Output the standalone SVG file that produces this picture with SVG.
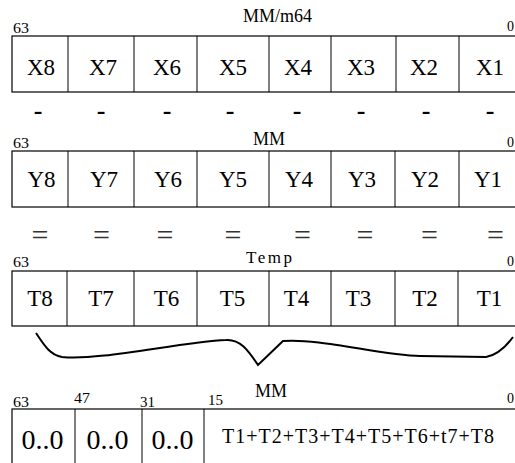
<svg xmlns="http://www.w3.org/2000/svg" width="515" height="463" viewBox="0 0 515 463">
<style>
text{font-family:"Liberation Serif","Times New Roman",serif;fill:#000}
.cell{font-size:23px;text-anchor:middle}
.zero{font-size:28px;text-anchor:middle}
.sum{font-size:20px;letter-spacing:1px}
.bit{font-size:14px}
.ttl{font-size:18px}
.tmp{font-size:17px;letter-spacing:2.5px}
.box{fill:none;stroke:#000;stroke-width:1.2}
.div{stroke:#000;stroke-width:1}
.op{font-size:26px;font-weight:bold;text-anchor:middle}
.eq{font-size:30px;text-anchor:middle;fill:#333}
.brace{fill:none;stroke:#000;stroke-width:2}
</style>
<rect width="515" height="463" fill="#fff"/>

<g id="regX">
  <text class="ttl" x="243" y="22">MM/m64</text>
  <text class="bit" x="13" y="33" textLength="16" lengthAdjust="spacingAndGlyphs">63</text>
  <text class="bit" x="507" y="31">0</text>
  <rect class="box" x="12" y="36" width="520" height="56"/>
  <g class="div"><line x1="68" y1="36" x2="68" y2="92"/><line x1="134" y1="36" x2="134" y2="92"/><line x1="197" y1="36" x2="197" y2="92"/><line x1="269" y1="36" x2="269" y2="92"/><line x1="331" y1="36" x2="331" y2="92"/><line x1="396" y1="36" x2="396" y2="92"/><line x1="459" y1="36" x2="459" y2="92"/></g>
  <g id="x8"><text class="cell" x="41" y="75">X8</text></g>
  <g id="x7"><text class="cell" x="103" y="75">X7</text></g>
  <g id="x6"><text class="cell" x="167" y="75">X6</text></g>
  <g id="x5"><text class="cell" x="233" y="75">X5</text></g>
  <g id="x4"><text class="cell" x="298" y="75">X4</text></g>
  <g id="x3"><text class="cell" x="361" y="75">X3</text></g>
  <g id="x2"><text class="cell" x="424" y="75">X2</text></g>
  <g id="x1"><text class="cell" x="490" y="75">X1</text></g>
</g>

<g id="minus">
  <text class="op" x="38" y="119">-</text>
  <text class="op" x="101" y="119">-</text>
  <text class="op" x="167" y="119">-</text>
  <text class="op" x="230" y="119">-</text>
  <text class="op" x="297" y="119">-</text>
  <text class="op" x="361" y="119">-</text>
  <text class="op" x="426" y="119">-</text>
  <text class="op" x="490" y="119">-</text>
</g>

<g id="regY">
  <text class="ttl" x="253" y="145">MM</text>
  <text class="bit" x="13" y="148" textLength="16" lengthAdjust="spacingAndGlyphs">63</text>
  <text class="bit" x="507" y="147">0</text>
  <rect class="box" x="12" y="151" width="520" height="56"/>
  <g class="div"><line x1="68" y1="151" x2="68" y2="207"/><line x1="134" y1="151" x2="134" y2="207"/><line x1="197" y1="151" x2="197" y2="207"/><line x1="269" y1="151" x2="269" y2="207"/><line x1="331" y1="151" x2="331" y2="207"/><line x1="395" y1="151" x2="395" y2="207"/><line x1="459" y1="151" x2="459" y2="207"/></g>
  <g id="y8"><text class="cell" x="41.5" y="187">Y8</text></g>
  <g id="y7"><text class="cell" x="104" y="187">Y7</text></g>
  <g id="y6"><text class="cell" x="168" y="187">Y6</text></g>
  <g id="y5"><text class="cell" x="233" y="187">Y5</text></g>
  <g id="y4"><text class="cell" x="299" y="187">Y4</text></g>
  <g id="y3"><text class="cell" x="362" y="187">Y3</text></g>
  <g id="y2"><text class="cell" x="425" y="187">Y2</text></g>
  <g id="y1"><text class="cell" x="488" y="187">Y1</text></g>
</g>

<g id="equals">
  <text class="eq" x="40" y="245">=</text>
  <text class="eq" x="101.5" y="245">=</text>
  <text class="eq" x="165" y="245">=</text>
  <text class="eq" x="233" y="245">=</text>
  <text class="eq" x="302.5" y="245">=</text>
  <text class="eq" x="365" y="245">=</text>
  <text class="eq" x="429.5" y="245">=</text>
  <text class="eq" x="495.5" y="245">=</text>
</g>

<g id="regT">
  <text class="tmp" x="246" y="263">Temp</text>
  <text class="bit" x="13" y="267" textLength="16" lengthAdjust="spacingAndGlyphs">63</text>
  <text class="bit" x="507" y="266">0</text>
  <rect class="box" x="12" y="271" width="520" height="55"/>
  <g class="div"><line x1="67" y1="271" x2="67" y2="326"/><line x1="134" y1="271" x2="134" y2="326"/><line x1="197" y1="271" x2="197" y2="326"/><line x1="269" y1="271" x2="269" y2="326"/><line x1="331" y1="271" x2="331" y2="326"/><line x1="395" y1="271" x2="395" y2="326"/><line x1="458" y1="271" x2="458" y2="326"/></g>
  <g id="t8"><text class="cell" x="40" y="306">T8</text></g>
  <g id="t7"><text class="cell" x="101" y="306">T7</text></g>
  <g id="t6"><text class="cell" x="166.5" y="306">T6</text></g>
  <g id="t5"><text class="cell" x="232.5" y="306">T5</text></g>
  <g id="t4"><text class="cell" x="296.5" y="306">T4</text></g>
  <g id="t3"><text class="cell" x="358.5" y="306">T3</text></g>
  <g id="t2"><text class="cell" x="425" y="306">T2</text></g>
  <g id="t1"><text class="cell" x="489.5" y="306">T1</text></g>
</g>

<g id="connectors">
  <path class="brace" d="M36,333 C44,345 50,355 62,357 C100,361 180,342 226,340 C240,339 248,350 258,365 L283,341 C320,338 380,355 420,356 L486,357 C497,355 505,348 513,337"/>
</g>

<g id="regR">
  <text class="ttl" x="255" y="397">MM</text>
  <text class="bit" x="13" y="407" textLength="16" lengthAdjust="spacingAndGlyphs">63</text>
  <text class="bit" x="74" y="403" textLength="16" lengthAdjust="spacingAndGlyphs">47</text>
  <text class="bit" x="140" y="407" textLength="15" lengthAdjust="spacingAndGlyphs">31</text>
  <text class="bit" x="208" y="405" textLength="15" lengthAdjust="spacingAndGlyphs">15</text>
  <text class="bit" x="507" y="403">0</text>
  <rect class="box" x="12" y="409" width="520" height="70"/>
  <g class="div"><line x1="75" y1="409" x2="75" y2="463"/><line x1="142" y1="409" x2="142" y2="463"/><line x1="204" y1="409" x2="204" y2="463"/></g>
  <g id="r4"><text class="zero" x="42.5" y="449">0..0</text></g>
  <g id="r3"><text class="zero" x="107.5" y="449">0..0</text></g>
  <g id="r2"><text class="zero" x="172.5" y="449">0..0</text></g>
  <g id="r1"><text class="sum" x="222" y="443">T1+T2+T3+T4+T5+T6+t7+T8</text></g>
</g>
</svg>
